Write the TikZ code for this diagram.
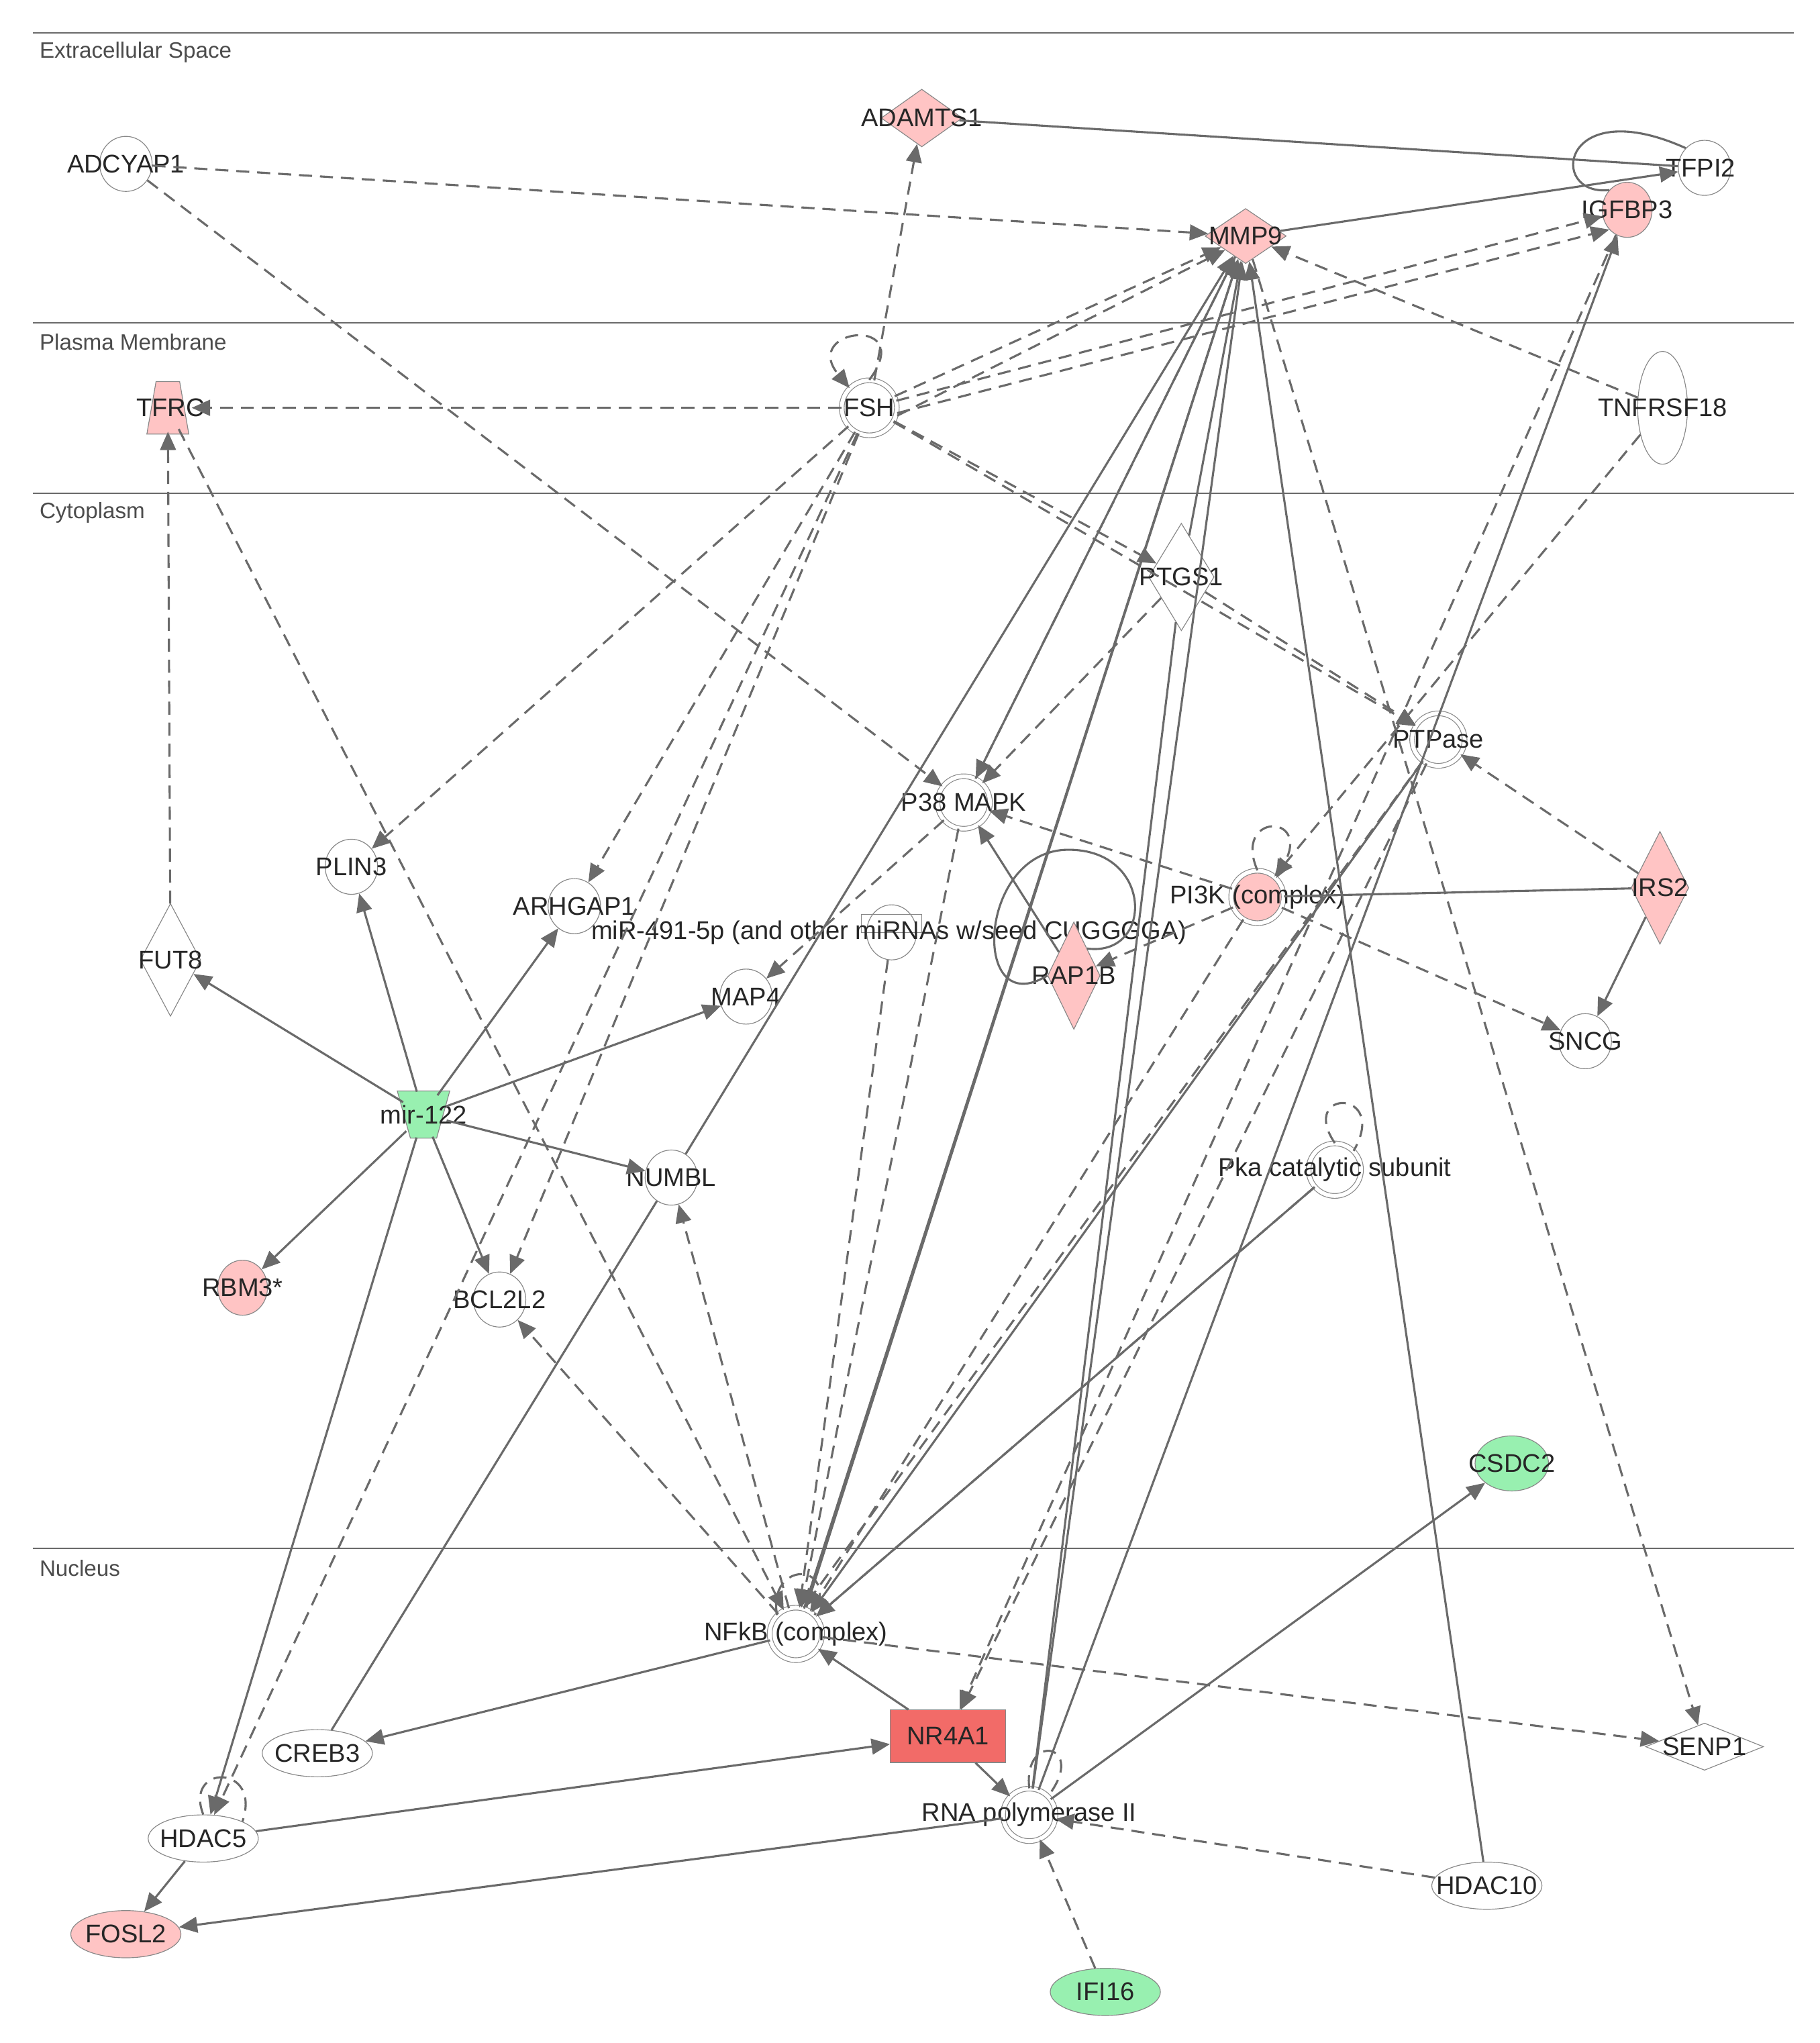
\documentclass[tikz,border=0pt]{standalone}
\usepackage{fontspec}
\setmainfont{Liberation Sans}
\usetikzlibrary{shapes.geometric,arrows.meta}
\definecolor{pk}{HTML}{FFC4C4}
\definecolor{rd}{HTML}{F26B68}
\definecolor{gr}{HTML}{98F0B0}
\definecolor{ln}{HTML}{6A6A6A}
\begin{document}
\begin{tikzpicture}[x=1pt,y=-1pt,
  every node/.style={font=\fontsize{19.5}{20}\selectfont, text=black!85, inner sep=0pt},
  base/.style={draw=ln!80, line width=0.6pt},
  el/.style={base, ellipse, minimum width=40, minimum height=42},
  wel/.style={base, ellipse, minimum width=84, minimum height=36},
  dbl/.style={base, circle, minimum size=40, double=white, double distance=3pt},
  dia/.style={base, diamond, minimum width=46, minimum height=84},
  hook/.style={circle, minimum size=36},
  ed/.style={draw=ln, line width=1.6pt, -{Triangle[length=14pt,width=12pt]}},
  dd/.style={ed, dash pattern=on 10pt off 6pt},
  pl/.style={draw=ln, line width=1.6pt},
  pd/.style={pl, dash pattern=on 10pt off 6pt},
  lab/.style={anchor=west, text=black!70, font=\fontsize{17}{18}\selectfont}
]
\useasboundingbox (0,0) rectangle (1388,1558);
\foreach \yy in {25,246,376,1181} \draw[ln, line width=1pt] (25,\yy) -- (1368,\yy);
\node[lab] (l1) at (30,40) {Extracellular Space};
\node[lab] (l2) at (30,261) {Plasma Membrane};
\node[lab] (l3) at (30,391) {Cytoplasm};
\node[lab] (l4) at (30,1196) {Nucleus};

% nodes
\node[dia, fill=pk, minimum width=62, minimum height=44] (adamts1) at (703,90) {};
\node at (703,90) {ADAMTS1};
\node[el] (adcyap1) at (96,125) {};
\node at (96,125) {ADCYAP1};
\node[el] (tfpi2) at (1300,128) {};
\node at (1297,128) {TFPI2};
\node[el, fill=pk, minimum width=38] (igfbp3) at (1241,160) {};
\node at (1241,160) {IGFBP3};
\node[dia, fill=pk, minimum width=62, minimum height=42] (mmp9) at (950,180) {};
\node at (950,180) {MMP9};
\filldraw[base, fill=pk] (119,291) -- (137,291) -- (144,331) -- (112,331) -- cycle;
\node[hook] (tfrc) at (128,311) {};
\node at (130,311) {TFRC};
\node[dbl, minimum size=42] (fsh) at (663,311) {};
\node at (663,311) {FSH};
\node[el, minimum width=38, minimum height=86] (tnfrsf18) at (1268,311) {};
\node at (1268,311) {TNFRSF18};
\node[dia, minimum width=50, minimum height=82] (ptgs1) at (901,440) {};
\node at (901,440) {PTGS1};
\node[dbl] (ptpase) at (1097,564) {};
\node at (1097,564) {PTPase};
\node[dbl] (p38) at (735,612) {};
\node at (735,612) {P38 MAPK};
\node[el] (plin3) at (268,661) {};
\node at (268,661) {PLIN3};
\node[dbl, fill=pk] (pi3k) at (959,684) {};
\node at (959,684) {PI3K (complex)};
\node[dia, fill=pk, minimum width=44, minimum height=86] (irs2) at (1266,677) {};
\node at (1266,677) {IRS2};
\node[el] (arhgap1) at (438,691) {};
\node at (438,691) {ARHGAP1};
\node[base, minimum width=46, minimum height=14, anchor=north] (mirrect) at (680,697) {};
\node[el, minimum width=38] (mir491) at (680,711) {};
\node at (678,711) {miR-491-5p (and other miRNAs w/seed CUGGGGA)};
\node[dia, minimum width=46, minimum height=86] (fut8) at (130,732) {};
\node at (130,732) {FUT8};
\node[dia, fill=pk, minimum width=40, minimum height=82] (rap1b) at (819,744) {};
\node at (819,744) {RAP1B};
\node[el] (map4) at (569,760) {};
\node at (569,760) {MAP4};
\node[el] (sncg) at (1209,794) {};
\node at (1209,794) {SNCG};
\filldraw[base, fill=gr] (303,832) -- (343,832) -- (333,868) -- (313,868) -- cycle;
\node[hook] (mir122) at (323,850) {};
\node at (323,850) {mir-122};
\node[el] (numbl) at (512,898) {};
\node at (512,898) {NUMBL};
\node[dbl] (pka) at (1018,892) {};
\node at (1018,892) {Pka catalytic subunit};
\node[el, fill=pk, minimum width=38] (rbm3) at (185,982) {};
\node at (185,982) {RBM3*};
\node[el] (bcl2l2) at (381,991) {};
\node at (381,991) {BCL2L2};
\node[el, fill=gr, minimum width=56] (csdc2) at (1153,1116) {};
\node at (1153,1116) {CSDC2};
\node[dbl] (nfkb) at (607,1246) {};
\node at (607,1246) {NFkB (complex)};
\node[base, rectangle, fill=rd, minimum width=88, minimum height=40] (nr4a1) at (723,1324) {};
\node at (723,1324) {NR4A1};
\node[wel] (creb3) at (242,1337) {};
\node at (242,1337) {CREB3};
\node[base, diamond, aspect=2.6, minimum width=90, minimum height=36] (senp1) at (1300,1332) {};
\node at (1300,1332) {SENP1};
\node[wel] (hdac5) at (155,1402) {};
\node at (155,1402) {HDAC5};
\node[dbl] (rnap) at (785,1384) {};
\node at (785,1384) {RNA polymerase II};
\node[wel] (hdac10) at (1134,1438) {};
\node at (1134,1438) {HDAC10};
\node[wel, fill=pk] (fosl2) at (96,1475) {};
\node at (96,1475) {FOSL2};
\node[wel, fill=gr] (ifi16) at (843,1519) {};
\node at (843,1519) {IFI16};

% self loops
\draw[pl] (tfpi2.north west) .. controls (1190,70) and (1180,150) .. (igfbp3.north west);
\draw[dd] (fsh.north) .. controls (700,240) and (610,250) .. (fsh.north west);
\draw[pl] (rap1b.west) .. controls (740,780) and (745,648) .. (815,648) .. controls (880,648) and (880,730) .. (rap1b.north east);
\draw[dd] (pi3k.north) .. controls (940,620) and (1000,620) .. (pi3k.north east);
\draw[pd] (pka.north) .. controls (990,830) and (1060,830) .. (pka.north east);
\draw[pd] (nfkb.north west) .. controls (585,1190) and (640,1190) .. (nfkb.north east);
\draw[pd] (hdac5.north) .. controls (140,1345) and (200,1345) .. (hdac5.north east);
\draw[pd] (rnap.north) .. controls (780,1320) and (830,1330) .. (rnap.north east);

% solid edges
\draw[pl] (adamts1) -- (tfpi2);
\draw[ed] (mmp9) -- (tfpi2);
\foreach \t in {fut8,plin3,arhgap1,map4,numbl,bcl2l2,rbm3,hdac5} \draw[ed] (mir122) -- (\t);
\draw[ed] (nfkb) -- (mmp9);
\draw[ed] ([xshift=8pt]nfkb.north) -- (mmp9);
\draw[ed] (p38) -- (mmp9);
\draw[ed] (numbl) -- (mmp9);
\draw[pl] (creb3) -- (numbl);
\draw[ed] (nfkb) -- (creb3);
\draw[ed] (hdac5) -- (nr4a1);
\draw[ed] (hdac5) -- (fosl2);
\draw[ed] (rnap) -- (fosl2);
\draw[ed] (nr4a1) -- (nfkb);
\draw[ed] (nr4a1) -- (rnap);
\draw[ed] (rnap) -- (csdc2);
\draw[ed] (rnap) -- (mmp9);
\draw[ed] (rnap) -- (igfbp3);
\draw[pl] (rnap) -- (ptgs1);
\draw[ed] (hdac10) -- (mmp9);
\draw[ed] (pka) -- (nfkb);
\draw[pl] (irs2) -- (pi3k);
\draw[ed] (irs2) -- (sncg);
\draw[ed] (rap1b) -- (p38);
\draw[ed] (ptpase) -- (nfkb);
\draw[ed] (ptgs1) -- (mmp9);

% dashed edges
\draw[dd] (adcyap1) -- (mmp9);
\draw[dd] (adcyap1) -- (p38);
\foreach \t in {adamts1,tfrc,mmp9,igfbp3,ptgs1,ptpase,plin3,arhgap1,hdac5} \draw[dd] (fsh) -- (\t);
\draw[dd] ([yshift=-6pt]fsh.east) -- (mmp9.south west);
\draw[dd] ([yshift=-4pt]fsh.east) -- (igfbp3.south west);
\draw[dd] (fsh) -- (bcl2l2);
\draw[dd] (fut8) -- (tfrc);
\draw[dd] (tfrc) -- (nfkb);
\draw[dd] (tnfrsf18) -- (mmp9);
\draw[dd] (tnfrsf18) -- (pi3k);
\draw[dd] (ptgs1) -- (p38);
\draw[dd] (ptgs1) -- (ptpase);
\draw[dd] (irs2) -- (ptpase);
\draw[dd] (pi3k) -- (p38);
\draw[dd] (pi3k) -- (rap1b);
\draw[dd] (pi3k) -- (sncg);
\draw[dd] (p38) -- (map4);
\draw[dd] (mir491) -- (nfkb);
\draw[dd] (p38) -- (nfkb);
\draw[dd] (ptpase) -- ([xshift=6pt]nfkb.north);
\draw[dd] (pi3k) -- (nfkb);
\draw[dd] (igfbp3) -- (nr4a1);
\draw[dd] (ptpase) -- (nr4a1);
\draw[dd] (mmp9) -- (senp1);
\draw[dd] (nfkb) -- (numbl);
\draw[dd] (nfkb) -- (bcl2l2);
\draw[dd] (nfkb) -- (senp1);
\draw[dd] (hdac10) -- (rnap);
\draw[dd] (ifi16) -- (rnap);
\draw[dd] (mmp9) -- (p38);
\draw[dd] (pka) -- (nfkb);
\end{tikzpicture}
\end{document}
